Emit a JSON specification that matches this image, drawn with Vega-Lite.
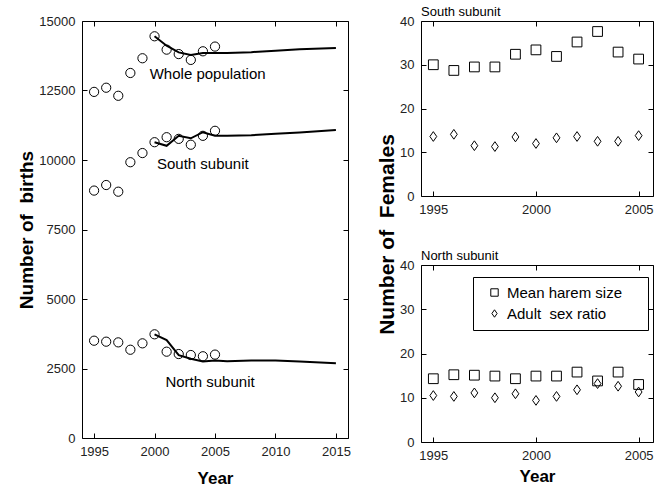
{
  "$schema": "https://vega.github.io/schema/vega-lite/v6.json",
  "padding": {"left": 17, "top": 5, "right": 0, "bottom": 0},
  "bounds": "flush",
  "spacing": 73,
  "config": {
    "view": {"stroke": "black", "strokeWidth": 1},
    "font": "Liberation Sans",
    "axis": {"domain": false, "grid": false, "tickColor": "black", "tickSize": -5, "labelFontSize": 13, "labelColor": "#222", "labelFont": "Liberation Sans", "titleFont": "Liberation Sans", "titleFontSize": 17, "titleFontWeight": "bold", "titleColor": "black", "labelPadding": 12},
    "axisY": {"titlePadding": 2},
    "axisX": {"titlePadding": 12},
    "legend": {"labelFont": "Liberation Sans"},
    "title": {"font": "Liberation Sans"}
  },
  "datasets": {
    "obs": [
      {"year": 1995, "births": 12450, "series": "Whole"}, {"year": 1996, "births": 12600, "series": "Whole"}, {"year": 1997, "births": 12310, "series": "Whole"}, {"year": 1998, "births": 13130, "series": "Whole"}, {"year": 1999, "births": 13660, "series": "Whole"}, {"year": 2000, "births": 14450, "series": "Whole"}, {"year": 2001, "births": 13970, "series": "Whole"}, {"year": 2002, "births": 13810, "series": "Whole"}, {"year": 2003, "births": 13600, "series": "Whole"}, {"year": 2004, "births": 13910, "series": "Whole"}, {"year": 2005, "births": 14080, "series": "Whole"},
      {"year": 1995, "births": 8900, "series": "South"}, {"year": 1996, "births": 9100, "series": "South"}, {"year": 1997, "births": 8860, "series": "South"}, {"year": 1998, "births": 9920, "series": "South"}, {"year": 1999, "births": 10250, "series": "South"}, {"year": 2000, "births": 10640, "series": "South"}, {"year": 2001, "births": 10820, "series": "South"}, {"year": 2002, "births": 10760, "series": "South"}, {"year": 2003, "births": 10550, "series": "South"}, {"year": 2004, "births": 10870, "series": "South"}, {"year": 2005, "births": 11050, "series": "South"},
      {"year": 1995, "births": 3500, "series": "North"}, {"year": 1996, "births": 3465, "series": "North"}, {"year": 1997, "births": 3440, "series": "North"}, {"year": 1998, "births": 3175, "series": "North"}, {"year": 1999, "births": 3405, "series": "North"}, {"year": 2000, "births": 3730, "series": "North"}, {"year": 2001, "births": 3105, "series": "North"}, {"year": 2002, "births": 3020, "series": "North"}, {"year": 2003, "births": 2985, "series": "North"}, {"year": 2004, "births": 2940, "series": "North"}, {"year": 2005, "births": 3000, "series": "North"}
    ],
    "proj": [
      {"year": 2000, "births": 14450, "series": "Whole"}, {"year": 2001, "births": 14110, "series": "Whole"}, {"year": 2002, "births": 13870, "series": "Whole"}, {"year": 2003, "births": 13780, "series": "Whole"}, {"year": 2004, "births": 13850, "series": "Whole"}, {"year": 2005, "births": 13850, "series": "Whole"}, {"year": 2006, "births": 13850, "series": "Whole"}, {"year": 2008, "births": 13880, "series": "Whole"}, {"year": 2010, "births": 13930, "series": "Whole"}, {"year": 2012, "births": 13980, "series": "Whole"}, {"year": 2015, "births": 14030, "series": "Whole"},
      {"year": 2000, "births": 10640, "series": "South"}, {"year": 2001, "births": 10510, "series": "South"}, {"year": 2002, "births": 10870, "series": "South"}, {"year": 2003, "births": 10780, "series": "South"}, {"year": 2004, "births": 11000, "series": "South"}, {"year": 2005, "births": 10870, "series": "South"}, {"year": 2006, "births": 10870, "series": "South"}, {"year": 2008, "births": 10890, "series": "South"}, {"year": 2010, "births": 10940, "series": "South"}, {"year": 2012, "births": 10990, "series": "South"}, {"year": 2015, "births": 11080, "series": "South"},
      {"year": 2000, "births": 3730, "series": "North"}, {"year": 2001, "births": 3520, "series": "North"}, {"year": 2002, "births": 2980, "series": "North"}, {"year": 2003, "births": 2850, "series": "North"}, {"year": 2004, "births": 2750, "series": "North"}, {"year": 2005, "births": 2790, "series": "North"}, {"year": 2006, "births": 2760, "series": "North"}, {"year": 2008, "births": 2790, "series": "North"}, {"year": 2010, "births": 2790, "series": "North"}, {"year": 2012, "births": 2750, "series": "North"}, {"year": 2015, "births": 2690, "series": "North"}
    ],
    "labels": [
      {"year": 1999.6, "births": 13090, "label": "Whole population"},
      {"year": 2000.2, "births": 9860, "label": "South subunit"},
      {"year": 2000.9, "births": 2000, "label": "North subunit"}
    ],
    "females": [
      {"year": 1995, "value": 30.0, "measure": "Mean harem size", "subunit": "South"}, {"year": 1996, "value": 28.7, "measure": "Mean harem size", "subunit": "South"}, {"year": 1997, "value": 29.5, "measure": "Mean harem size", "subunit": "South"}, {"year": 1998, "value": 29.5, "measure": "Mean harem size", "subunit": "South"}, {"year": 1999, "value": 32.4, "measure": "Mean harem size", "subunit": "South"}, {"year": 2000, "value": 33.4, "measure": "Mean harem size", "subunit": "South"}, {"year": 2001, "value": 31.9, "measure": "Mean harem size", "subunit": "South"}, {"year": 2002, "value": 35.2, "measure": "Mean harem size", "subunit": "South"}, {"year": 2003, "value": 37.6, "measure": "Mean harem size", "subunit": "South"}, {"year": 2004, "value": 32.9, "measure": "Mean harem size", "subunit": "South"}, {"year": 2005, "value": 31.3, "measure": "Mean harem size", "subunit": "South"},
      {"year": 1995, "value": 13.6, "measure": "Adult \u00a0sex ratio", "subunit": "South"}, {"year": 1996, "value": 14.1, "measure": "Adult \u00a0sex ratio", "subunit": "South"}, {"year": 1997, "value": 11.5, "measure": "Adult \u00a0sex ratio", "subunit": "South"}, {"year": 1998, "value": 11.3, "measure": "Adult \u00a0sex ratio", "subunit": "South"}, {"year": 1999, "value": 13.5, "measure": "Adult \u00a0sex ratio", "subunit": "South"}, {"year": 2000, "value": 12.0, "measure": "Adult \u00a0sex ratio", "subunit": "South"}, {"year": 2001, "value": 13.3, "measure": "Adult \u00a0sex ratio", "subunit": "South"}, {"year": 2002, "value": 13.6, "measure": "Adult \u00a0sex ratio", "subunit": "South"}, {"year": 2003, "value": 12.5, "measure": "Adult \u00a0sex ratio", "subunit": "South"}, {"year": 2004, "value": 12.5, "measure": "Adult \u00a0sex ratio", "subunit": "South"}, {"year": 2005, "value": 13.8, "measure": "Adult \u00a0sex ratio", "subunit": "South"},
      {"year": 1995, "value": 14.3, "measure": "Mean harem size", "subunit": "North"}, {"year": 1996, "value": 15.2, "measure": "Mean harem size", "subunit": "North"}, {"year": 1997, "value": 15.1, "measure": "Mean harem size", "subunit": "North"}, {"year": 1998, "value": 14.9, "measure": "Mean harem size", "subunit": "North"}, {"year": 1999, "value": 14.3, "measure": "Mean harem size", "subunit": "North"}, {"year": 2000, "value": 14.9, "measure": "Mean harem size", "subunit": "North"}, {"year": 2001, "value": 14.9, "measure": "Mean harem size", "subunit": "North"}, {"year": 2002, "value": 15.8, "measure": "Mean harem size", "subunit": "North"}, {"year": 2003, "value": 13.8, "measure": "Mean harem size", "subunit": "North"}, {"year": 2004, "value": 15.8, "measure": "Mean harem size", "subunit": "North"}, {"year": 2005, "value": 13.0, "measure": "Mean harem size", "subunit": "North"},
      {"year": 1995, "value": 10.5, "measure": "Adult \u00a0sex ratio", "subunit": "North"}, {"year": 1996, "value": 10.3, "measure": "Adult \u00a0sex ratio", "subunit": "North"}, {"year": 1997, "value": 11.1, "measure": "Adult \u00a0sex ratio", "subunit": "North"}, {"year": 1998, "value": 10.0, "measure": "Adult \u00a0sex ratio", "subunit": "North"}, {"year": 1999, "value": 10.9, "measure": "Adult \u00a0sex ratio", "subunit": "North"}, {"year": 2000, "value": 9.4, "measure": "Adult \u00a0sex ratio", "subunit": "North"}, {"year": 2001, "value": 10.3, "measure": "Adult \u00a0sex ratio", "subunit": "North"}, {"year": 2002, "value": 11.8, "measure": "Adult \u00a0sex ratio", "subunit": "North"}, {"year": 2003, "value": 13.2, "measure": "Adult \u00a0sex ratio", "subunit": "North"}, {"year": 2004, "value": 12.6, "measure": "Adult \u00a0sex ratio", "subunit": "North"}, {"year": 2005, "value": 11.3, "measure": "Adult \u00a0sex ratio", "subunit": "North"}
    ]
  },
  "resolve": {"scale": {"x": "independent", "y": "independent", "shape": "independent"}},
  "hconcat": [
    {
      "width": 266,
      "height": 417,
      "layer": [
        {
          "data": {"name": "obs"},
          "mark": {"type": "point", "shape": "circle", "filled": false, "stroke": "black", "strokeWidth": 1, "size": 85, "opacity": 1},
          "encoding": {
            "x": {"field": "year", "type": "quantitative", "scale": {"domain": [1994, 2016], "nice": false, "zero": false}, "axis": {"values": [1995, 2000, 2005, 2010, 2015], "format": "d", "title": "Year", "orient": "bottom"}},
            "y": {"field": "births", "type": "quantitative", "scale": {"domain": [0, 15000], "nice": false}, "axis": {"values": [0, 2500, 5000, 7500, 10000, 12500, 15000], "format": "d", "title": "Number of \u00a0births", "titleFontSize": 19, "orient": "left"}}
          }
        },
        {
          "data": {"name": "proj"},
          "mark": {"type": "line", "color": "black", "strokeWidth": 2},
          "encoding": {
            "x": {"field": "year", "type": "quantitative", "axis": {"orient": "top", "labels": false, "title": null, "values": [1995, 2000, 2005, 2010, 2015]}},
            "y": {"field": "births", "type": "quantitative", "axis": {"orient": "right", "labels": false, "title": null, "values": [0, 2500, 5000, 7500, 10000, 12500, 15000]}},
            "detail": {"field": "series"}
          }
        },
        {
          "data": {"name": "labels"},
          "mark": {"type": "text", "align": "left", "baseline": "middle", "fontSize": 15, "font": "Liberation Sans", "color": "black"},
          "encoding": {
            "x": {"field": "year", "type": "quantitative", "axis": null},
            "y": {"field": "births", "type": "quantitative", "axis": null},
            "text": {"field": "label"}
          }
        }
      ]
    },
    {
      "bounds": "flush",
      "spacing": 69,
      "resolve": {"scale": {"shape": "independent", "x": "independent", "y": "independent"}},
      "vconcat": [
        {
          "width": 232,
          "height": 175,
          "title": {"text": "South subunit", "anchor": "start", "fontSize": 13, "fontWeight": "normal", "offset": -4, "frame": "group"},
          "data": {"name": "females"},
          "transform": [{"filter": "datum.subunit === 'South'"}],
          "layer": [
            {
              "transform": [{"filter": "datum.measure === 'Mean harem size'"}],
              "mark": {"type": "point", "filled": false, "stroke": "black", "strokeWidth": 1, "size": 95, "opacity": 1},
              "encoding": {
                "x": {"field": "year", "type": "quantitative", "scale": {"domain": [1994.4, 2005.7], "nice": false, "zero": false}, "axis": {"values": [1995, 2000, 2005], "format": "d", "title": null, "orient": "bottom"}},
                "y": {"field": "value", "type": "quantitative", "scale": {"domain": [0, 40], "nice": false}, "axis": {"values": [0, 10, 20, 30, 40], "format": "d", "title": "Number of \u00a0Females", "titleFontSize": 21, "orient": "left", "titleY": 213}},
                "shape": {"field": "measure", "type": "nominal", "scale": {"domain": ["Mean harem size", "Adult \u00a0sex ratio"], "range": ["square", "M0,-1L0.7,0L0,1L-0.7,0Z"]}, "legend": null}
              }
            },
            {
              "transform": [{"filter": "datum.measure !== 'Mean harem size'"}],
              "mark": {"type": "point", "filled": false, "stroke": "black", "strokeWidth": 1, "size": 95, "opacity": 1},
              "encoding": {
                "x": {"field": "year", "type": "quantitative", "axis": {"values": [1995, 2000, 2005], "labels": false, "title": null, "orient": "top"}},
                "y": {"field": "value", "type": "quantitative", "axis": {"values": [0, 10, 20, 30, 40], "labels": false, "title": null, "orient": "right"}},
                "shape": {"field": "measure", "type": "nominal", "legend": null}
              }
            }
          ]
        },
        {
          "width": 232,
          "height": 177,
          "title": {"text": "North subunit", "anchor": "start", "fontSize": 13, "fontWeight": "normal", "offset": -4, "frame": "group"},
          "data": {"name": "females"},
          "transform": [{"filter": "datum.subunit === 'North'"}],
          "layer": [
            {
              "transform": [{"filter": "datum.measure === 'Mean harem size'"}],
              "mark": {"type": "point", "filled": false, "stroke": "black", "strokeWidth": 1, "size": 95, "opacity": 1},
              "encoding": {
                "x": {"field": "year", "type": "quantitative", "scale": {"domain": [1994.4, 2005.7], "nice": false, "zero": false}, "axis": {"values": [1995, 2000, 2005], "format": "d", "title": "Year", "orient": "bottom", "titlePadding": 6}},
                "y": {"field": "value", "type": "quantitative", "scale": {"domain": [0, 40], "nice": false}, "axis": {"values": [0, 10, 20, 30, 40], "format": "d", "title": null, "orient": "left"}},
                "shape": {"field": "measure", "type": "nominal", "scale": {"domain": ["Mean harem size", "Adult \u00a0sex ratio"], "range": ["square", "M0,-1L0.7,0L0,1L-0.7,0Z"]}, "legend": {"title": "\u00a0", "titleOrient": "right", "titlePadding": 18, "orient": "none", "legendX": 52, "legendY": 12, "strokeColor": "black", "padding": 8, "labelFontSize": 15, "labelColor": "black", "labelOffset": 5, "symbolOffset": 6, "symbolSize": 55, "symbolStrokeColor": "black", "symbolStrokeWidth": 1, "rowPadding": 5, "fillColor": "white"}}
              }
            },
            {
              "transform": [{"filter": "datum.measure !== 'Mean harem size'"}],
              "mark": {"type": "point", "filled": false, "stroke": "black", "strokeWidth": 1, "size": 95, "opacity": 1},
              "encoding": {
                "x": {"field": "year", "type": "quantitative", "axis": {"values": [1995, 2000, 2005], "labels": false, "title": null, "orient": "top"}},
                "y": {"field": "value", "type": "quantitative", "axis": {"values": [0, 10, 20, 30, 40], "labels": false, "title": null, "orient": "right"}},
                "shape": {"field": "measure", "type": "nominal"}
              }
            }
          ]
        }
      ]
    }
  ]
}
